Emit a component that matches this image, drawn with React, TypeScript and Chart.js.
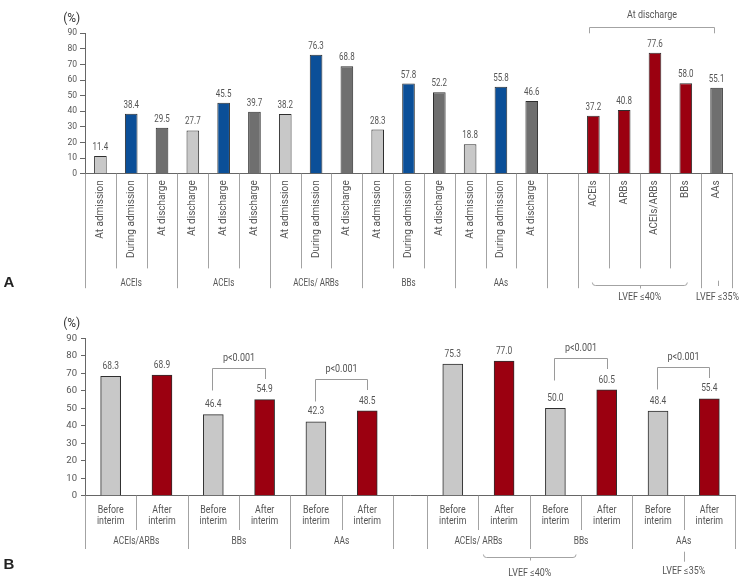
import React, { useEffect, useRef } from 'react';
import { Chart, registerables } from 'chart.js';

Chart.register(...registerables);

const FONT = 'Roboto, "Open Sans", "DejaVu Sans", sans-serif';

// ---------- Panel A data ----------
const aCategories = [
  'At admission', 'During admission', 'At discharge',
  'At discharge', 'At discharge', 'At discharge',
  'At admission', 'During admission', 'At discharge',
  'At admission', 'During admission', 'At discharge',
  'At admission', 'During admission', 'At discharge',
  '',
  'ACEIs', 'ARBs', 'ACEIs/ARBs', 'BBs', 'AAs',
];
const aValues: (number | null)[] = [
  11.4, 38.4, 29.5,
  27.7, 45.5, 39.7,
  38.2, 76.3, 68.8,
  28.3, 57.8, 52.2,
  18.8, 55.8, 46.6,
  null,
  37.2, 40.8, 77.6, 58.0, 55.1,
];
const aKinds = [
  'adm', 'dur', 'dis',
  'adm', 'dur', 'dis',
  'adm', 'dur', 'dis',
  'adm', 'dur', 'dis',
  'adm', 'dur', 'dis',
  '',
  'lv', 'lv', 'lv', 'lv', 'dis',
];
const aGroupLabels = ['ACEIs', 'ACEIs', 'ACEIs/ ARBs', 'BBs', 'AAs', '', '', ''];
const aGroupSizes = [3, 3, 3, 3, 3, 1, 4, 1];
const aTopBracket = { label: 'At discharge', from: 16, to: 20 };
const aSubsets = [
  { label: 'LVEF ≤40%', group: 6, mark: 'brace' },
  { label: 'LVEF ≤35%', group: 7, mark: 'tick' },
];

// ---------- Panel B data ----------
const bCategories = [
  'Before interim', 'After interim',
  'Before interim', 'After interim',
  'Before interim', 'After interim',
  'Before interim', 'After interim',
  'Before interim', 'After interim',
  'Before interim', 'After interim',
];
const bValues = [68.3, 68.9, 46.4, 54.9, 42.3, 48.5, 75.3, 77.0, 50.0, 60.5, 48.4, 55.4];
const bGroupLabels = ['ACEIs/ARBs', 'BBs', 'AAs', 'ACEIs/ ARBs', 'BBs', 'AAs'];
const bComparisons: [number, number, string][] = [
  [2, 3, 'p<0.001'],
  [4, 5, 'p<0.001'],
  [8, 9, 'p<0.001'],
  [10, 11, 'p<0.001'],
];
const bSubsets = [
  { label: 'LVEF ≤40%', groups: [3, 4], mark: 'brace' },
  { label: 'LVEF ≤35%', groups: [5], mark: 'tick' },
];

const yMin = 0;
const yMax = 90;
const yStep = 10;

// ---------- styles ----------
const COLORS: Record<string, string> = {
  adm: '#c8c8c8',
  dur: '#0b4f98',
  dis: '#6f6f6f',
  lv: '#9b0010',
  before: '#c8c8c8',
  after: '#9b0010',
};
const TEXT = '#555';
const LINE = '#a3a3a3';
const AXIS = '#666';

// layout of B: gap (narrow empty slot) before bar index 6
const B_GAP_AT = 6;
const bX = (i: number) => i * 3 + 1.5 + (i >= B_GAP_AT ? 2 : 0);

function txt(
  ctx: CanvasRenderingContext2D, s: string, x: number, y: number, font: string,
  color: string, sx = 1, align: CanvasTextAlign = 'center', rot = 0
) {
  ctx.save();
  ctx.font = font;
  ctx.fillStyle = color;
  ctx.textAlign = align;
  ctx.textBaseline = 'middle';
  ctx.translate(x, y);
  if (rot) ctx.rotate(rot);
  ctx.scale(sx, 1);
  ctx.fillText(s, 0, 0);
  ctx.restore();
}
function vline(ctx: CanvasRenderingContext2D, x: number, y1: number, y2: number) {
  const xx = Math.round(x) + 0.5;
  ctx.beginPath();
  ctx.moveTo(xx, y1);
  ctx.lineTo(xx, y2);
  ctx.stroke();
}
function brace(ctx: CanvasRenderingContext2D, x1: number, x2: number, y: number) {
  const xc = Math.round((x1 + x2) / 2) + 0.5;
  const yy = Math.round(y) + 0.5;
  ctx.beginPath();
  ctx.moveTo(x1, yy - 3);
  ctx.quadraticCurveTo(x1, yy, x1 + 3, yy);
  ctx.lineTo(x2 - 3, yy);
  ctx.quadraticCurveTo(x2, yy, x2, yy - 3);
  ctx.moveTo(xc, yy);
  ctx.lineTo(xc, yy + 3);
  ctx.stroke();
}

const panelAPlugin = {
  id: 'panelA',
  afterDraw(chart: any) {
    const { ctx, chartArea } = chart;
    const x = chart.scales.x;
    const ax = chartArea.bottom;
    const meta = chart.getDatasetMeta(0);
    ctx.save();
    // value labels
    meta.data.forEach((el: any, i: number) => {
      const v = aValues[i];
      if (v == null) return;
      txt(ctx, v.toFixed(1), el.x, el.y - 8.5, `10px ${FONT}`, TEXT, 0.8);
    });
    // rotated category labels
    aCategories.forEach((c, i) => {
      if (!c) return;
      txt(ctx, c, x.getPixelForValue(i), ax + 6.6, `10px ${FONT}`, TEXT, 1, 'right', -Math.PI / 2);
    });
    // table lines
    ctx.strokeStyle = LINE;
    ctx.lineWidth = 1;
    const edge = (k: number) => x.getPixelForValue(k - 0.5);
    const bounds = [0];
    let acc = 0;
    aGroupSizes.forEach((s) => { acc += s; bounds.push(acc); });
    for (let j = 0; j <= aCategories.length; j++) {
      const long = bounds.includes(j);
      vline(ctx, edge(j), ax, ax + (long ? 114.5 : 94.7));
    }
    aGroupLabels.forEach((g, gi) => {
      if (!g) return;
      const c = (edge(bounds[gi]) + edge(bounds[gi + 1])) / 2;
      txt(ctx, g, c, ax + 109.6, `10px ${FONT}`, TEXT, 0.8);
    });
    // subsets
    aSubsets.forEach((s) => {
      const first = bounds[s.group];
      const last = bounds[s.group + 1] - 1;
      if (s.mark === 'brace') {
        const x1 = x.getPixelForValue(first) - 1;
        const x2 = x.getPixelForValue(last) + 1.5;
        brace(ctx, x1, x2, ax + 111.3);
        txt(ctx, s.label, (x1 + x2) / 2, ax + 124, `10.5px ${FONT}`, TEXT, 0.85);
      } else {
        const xc = x.getPixelForValue(first) + 1;
        vline(ctx, xc, ax + 107, ax + 112.3);
        txt(ctx, s.label, xc, ax + 124, `10.5px ${FONT}`, TEXT, 0.85);
      }
    });
    // top bracket
    {
      const x1 = Math.round(x.getPixelForValue(aTopBracket.from) - 4.5) + 0.5;
      const x2 = Math.round(x.getPixelForValue(aTopBracket.to) - 3) + 0.5;
      const yt = Math.round(chartArea.top - 6.6) + 0.5;
      ctx.beginPath();
      ctx.moveTo(x1, chartArea.top);
      ctx.lineTo(x1, yt);
      ctx.lineTo(x2, yt);
      ctx.lineTo(x2, chartArea.top);
      ctx.stroke();
      txt(ctx, aTopBracket.label, (x1 + x2) / 2, chartArea.top - 18.3, `10.5px ${FONT}`, TEXT, 0.85);
    }
    // unit + panel letter
    txt(ctx, '(%)', 71.7, 18.5, `12px ${FONT}`, '#333', 1);
    txt(ctx, 'A', 3.5, 283, `bold 15px "Liberation Sans", Arial, sans-serif`, '#222', 1, 'left');
    ctx.restore();
  },
};

const panelBPlugin = {
  id: 'panelB',
  afterDraw(chart: any) {
    const { ctx, chartArea } = chart;
    const x = chart.scales.x;
    const y = chart.scales.y;
    const ax = chartArea.bottom;
    const meta = chart.getDatasetMeta(0);
    ctx.save();
    meta.data.forEach((el: any, i: number) => {
      txt(ctx, bValues[i].toFixed(1), el.x, el.y - 10, `10.5px ${FONT}`, TEXT, 0.8);
    });
    // category labels (two lines)
    bCategories.forEach((c, i) => {
      const cx = x.getPixelForValue(bX(i));
      const parts = c.split(' ');
      txt(ctx, parts[0], cx, ax + 14.3, `10.5px ${FONT}`, TEXT, 0.84);
      txt(ctx, parts[1], cx, ax + 26, `10.5px ${FONT}`, TEXT, 0.84);
    });
    // table lines
    ctx.strokeStyle = LINE;
    ctx.lineWidth = 1;
    bGroupLabels.forEach((g, gi) => {
      const i0 = gi * 2;
      const i1 = gi * 2 + 1;
      const left = x.getPixelForValue(bX(i0) - 1.5);
      const right = x.getPixelForValue(bX(i1) + 1.5);
      const mid = x.getPixelForValue(bX(i0) + 1.5);
      vline(ctx, left, ax, ax + 53.3);
      vline(ctx, right, ax, ax + 53.3);
      vline(ctx, mid, ax, ax + 34.3);
      txt(ctx, g, (left + right) / 2, ax + 46, `10.5px ${FONT}`, TEXT, 0.8);
    });
    // subsets
    bSubsets.forEach((s) => {
      if (s.mark === 'brace') {
        const g0 = s.groups[0];
        const g1 = s.groups[s.groups.length - 1];
        const x1 = x.getPixelForValue(bX(g0 * 2) + 1.5) + 5;
        const x2 = x.getPixelForValue(bX(g1 * 2) + 1.5) - 5;
        brace(ctx, x1, x2, ax + 61);
        txt(ctx, s.label, (x1 + x2) / 2, ax + 77.6, `10.5px ${FONT}`, TEXT, 0.85);
      } else {
        const g = s.groups[0];
        const xc = x.getPixelForValue(bX(g * 2) + 1.5);
        vline(ctx, xc, ax + 56, ax + 66);
        txt(ctx, s.label, xc, ax + 76, `10.5px ${FONT}`, TEXT, 0.85);
      }
    });
    // comparison brackets
    ctx.strokeStyle = '#9a9a9a';
    bComparisons.forEach(([i, j, label]) => {
      const x1 = Math.round(meta.data[i].x - 1) + 0.5;
      const x2 = Math.round(meta.data[j].x) + 0.5;
      const top = Math.max(bValues[i], bValues[j]) + 18;
      const yt = Math.round(y.getPixelForValue(top)) + 0.5;
      ctx.beginPath();
      ctx.moveTo(x1, yt + 22);
      ctx.lineTo(x1, yt);
      ctx.lineTo(x2, yt);
      ctx.lineTo(x2, yt + 10.5);
      ctx.stroke();
      txt(ctx, label, (x1 + x2) / 2, yt - 10, `10px ${FONT}`, TEXT, 0.9);
    });
    txt(ctx, '(%)', 71.7, 19, `12px ${FONT}`, '#333', 1);
    txt(ctx, 'B', 3.5, 260, `bold 15px "Liberation Sans", Arial, sans-serif`, '#222', 1, 'left');
    ctx.restore();
  },
};

function yAxis(size: number, tickLen: number, pad: number) {
  return {
    min: yMin,
    max: yMax,
    afterFit: (s: any) => { s.width = 85; },
    ticks: { stepSize: yStep, color: TEXT, font: { family: FONT, size }, padding: pad },
    grid: { display: true, drawOnChartArea: false, drawTicks: true, tickLength: tickLen, color: AXIS },
    border: { display: true, color: AXIS, width: 1 },
  };
}

export default function App() {
  const refA = useRef<HTMLCanvasElement>(null);
  const refB = useRef<HTMLCanvasElement>(null);

  useEffect(() => {
    const chartA = new Chart(refA.current as HTMLCanvasElement, {
      type: 'bar',
      data: {
        labels: aCategories,
        datasets: [{
          data: aValues as any,
          backgroundColor: aKinds.map((k) => COLORS[k] || 'transparent'),
          borderColor: '#2e2e2e',
          borderWidth: 1,
          barPercentage: 0.41,
          categoryPercentage: 1,
        }],
      },
      options: {
        responsive: false,
        animation: false,
        events: [],
        layout: { padding: { left: 0, top: 33.3, right: 20, bottom: 0 } },
        plugins: { legend: { display: false }, tooltip: { enabled: false } },
        scales: {
          x: {
            afterFit: (s: any) => { s.height = 131.3; },
            ticks: { display: false },
            grid: { display: false },
            border: { display: true, color: AXIS, width: 1 },
          },
          y: yAxis(8.5, 5, 3) as any,
        },
      },
      plugins: [panelAPlugin],
    });

    const chartB = new Chart(refB.current as HTMLCanvasElement, {
      type: 'bar',
      data: {
        datasets: [{
          data: bValues.map((v, i) => ({ x: bX(i), y: v })) as any,
          backgroundColor: bCategories.map((c) => (c.startsWith('Before') ? COLORS.before : COLORS.after)),
          borderColor: '#2e2e2e',
          borderWidth: 1,
          barThickness: 20,
        }],
      },
      options: {
        responsive: false,
        animation: false,
        events: [],
        layout: { padding: { left: 0, top: 33.3, right: 17, bottom: 0 } },
        plugins: { legend: { display: false }, tooltip: { enabled: false } },
        scales: {
          x: {
            type: 'linear',
            min: 0,
            max: bX(bValues.length - 1) + 1.5,
            offset: false,
            afterFit: (s: any) => { s.height = 92.3; },
            ticks: { display: false, stepSize: 19 },
            grid: { display: false },
            border: { display: true, color: AXIS, width: 1 },
          },
          y: yAxis(9.5, 4, 4) as any,
        },
      },
      plugins: [panelBPlugin],
    });

    return () => {
      chartA.destroy();
      chartB.destroy();
    };
  }, []);

  return (
    <div style={{ position: 'absolute', left: 0, top: 0, width: 752, height: 588, background: '#fff' }}>
      <canvas ref={refA} width={752} height={305}
        style={{ position: 'absolute', left: 0, top: 0, width: 752, height: 305 }} />
      <canvas ref={refB} width={752} height={283}
        style={{ position: 'absolute', left: 0, top: 305, width: 752, height: 283 }} />
    </div>
  );
}
